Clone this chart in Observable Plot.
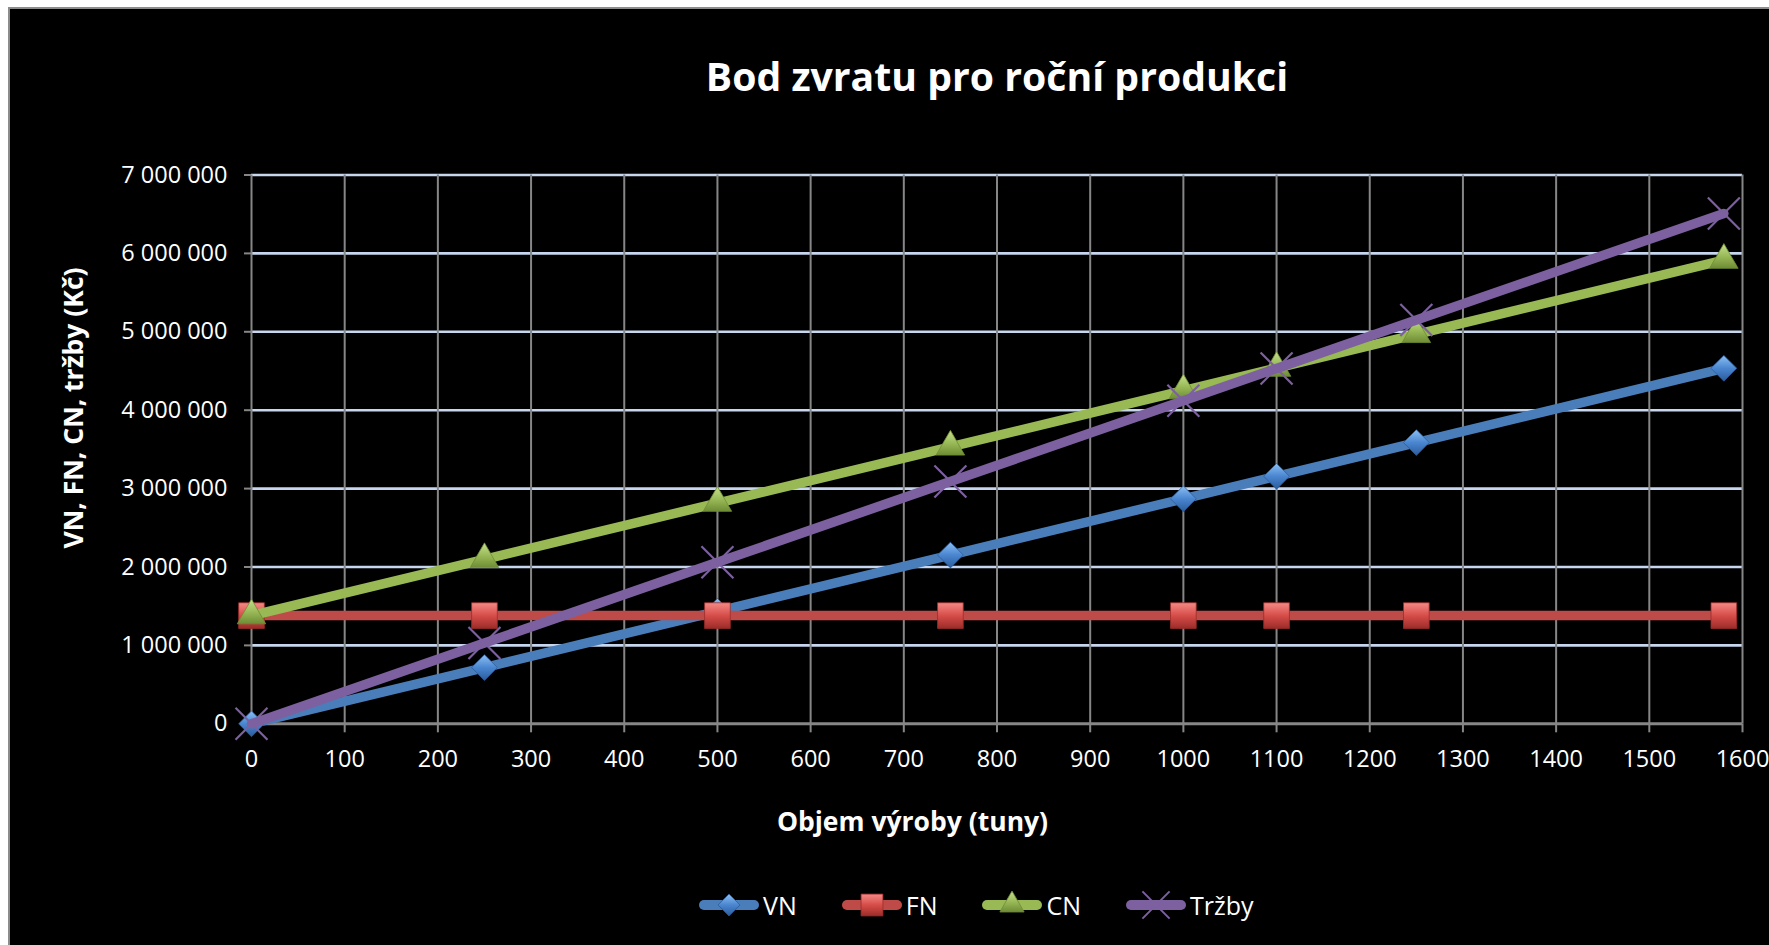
<!DOCTYPE html>
<html>
<head>
<meta charset="utf-8">
<script src="https://cdn.jsdelivr.net/npm/d3@7"></script>
<script src="https://cdn.jsdelivr.net/npm/@observablehq/plot@0.6"></script>
<style>
  html, body { margin: 0; padding: 0; background: #fff; width: 1769px; height: 945px; overflow: hidden; }
  #frame { position: absolute; left: 8px; top: 7px; width: 1761px; height: 938px; background: #000;
           border-top: 2px solid #8c8c8c; border-left: 2px solid #8c8c8c; box-sizing: border-box;
           font-family: "Open Sans", sans-serif; color: #fff; }
  #chart { position: absolute; left: 0; top: 0; }
  #legend { position: absolute; left: 688px; top: 880px; display: flex; align-items: center; gap: 44px; }
  .item { display: flex; align-items: center; gap: 3px; font-size: 25px; line-height: 32px; }
  .item svg { display: block; }
</style>
</head>
<body>
<div id="frame">
  <div id="chart"></div>
  <div id="legend"></div>
</div>
<script>
// ---- data ----
const tons   = [0, 250, 500, 750, 1000, 1100, 1250, 1580];
const vn     = [0, 717500, 1435000, 2152500, 2870000, 3157000, 3587500, 4534600];
const fn     = [1380000, 1380000, 1380000, 1380000, 1380000, 1380000, 1380000, 1380000];
const cn     = [1380000, 2097500, 2815000, 3532500, 4250000, 4537000, 4967500, 5914600];
const trzby  = [0, 1030000, 2060000, 3090000, 4120000, 4532000, 5150000, 6509600];
const seriesNames = ["VN", "FN", "CN", "Tržby"];
const xTicks = [0, 100, 200, 300, 400, 500, 600, 700, 800, 900, 1000, 1100, 1200, 1300, 1400, 1500, 1600];
const yTicks = [0, 1000000, 2000000, 3000000, 4000000, 5000000, 6000000, 7000000];
const titleText = "Bod zvratu pro roční produkci";
const xLabel = "Objem výroby (tuny)";
const yLabel = "VN, FN, CN, tržby (Kč)";

// ---- styles ----
const seriesValues = {"VN": vn, "FN": fn, "CN": cn, "Tržby": trzby};
const lineColor = {"VN": "#4a7ebb", "FN": "#be4b48", "CN": "#98b954", "Tržby": "#7d60a0"};
const gradStops = {
  "VN": ["#8cc0f5", "#4a86d0", "#2a5c9c"],
  "FN": ["#f58a86", "#d64d49", "#9c2c29"],
  "CN": ["#c5e08e", "#9bbb59", "#6e8c34"]
};
const symbolOf = {"VN": "diamond2", "FN": "square", "CN": "triangle", "Tržby": "times"};
const rOf = {"VN": 11.6, "FN": 14.5, "CN": 10.6, "Tržby": 14.6};
const gid = {"VN": "gVN", "FN": "gFN", "CN": "gCN"};

const rows = seriesNames.flatMap(s => tons.map((t, i) => ({series: s, x: t, y: seriesValues[s][i]})));

const NS = "http://www.w3.org/2000/svg";
function defsMark() {
  const defs = document.createElementNS(NS, "defs");
  for (const s of ["VN", "FN", "CN"]) {
    const g = document.createElementNS(NS, "linearGradient");
    g.setAttribute("id", gid[s]);
    g.setAttribute("x1", "0"); g.setAttribute("y1", "0");
    g.setAttribute("x2", "0"); g.setAttribute("y2", "1");
    gradStops[s].forEach((c, i) => {
      const st = document.createElementNS(NS, "stop");
      st.setAttribute("offset", ["0%", "50%", "100%"][i]);
      st.setAttribute("stop-color", c);
      g.appendChild(st);
    });
    defs.appendChild(g);
  }
  return defs;
}

const W = 1759, H = 860;
const mL = 241, mR = 27, mT = 165.5, mB = 145.7;
const frameCX = (mL + (W - mR)) / 2;
const fmtY = d => d3.format(",")(d).replace(/,/g, "\u00a0");

const seriesMarks = seriesNames.flatMap(s => {
  const data = rows.filter(d => d.series === s);
  const line = Plot.line(data, {x: "x", y: "y", stroke: lineColor[s], strokeWidth: 9.5, strokeLinejoin: "round"});
  const dot = s === "Tržby"
    ? Plot.dot(data, {x: "x", y: "y", symbol: symbolOf[s], r: rOf[s], stroke: "#7d60a0", strokeWidth: 2.2, fill: "none"})
    : Plot.dot(data, {x: "x", y: "y", symbol: symbolOf[s], r: rOf[s], fill: `url(#${gid[s]})`, stroke: gradStops[s][2], strokeWidth: 0.8});
  return [line, dot];
});

const chart = Plot.plot({
  width: W, height: H,
  marginLeft: mL, marginRight: mR, marginTop: mT, marginBottom: mB,
  style: {background: "black", color: "white", fontFamily: "'Open Sans', sans-serif", overflow: "visible"},
  x: {domain: [0, 1600]},
  y: {domain: [0, 7000000]},
  marks: [
    defsMark,
    Plot.ruleY(yTicks.filter(d => d > 0), {stroke: "#c5d6ee", strokeWidth: 2.6}),
    Plot.ruleX(xTicks, {stroke: "#868686", strokeWidth: 2}),
    Plot.ruleY([0], {stroke: "#868686", strokeWidth: 3}),
    Plot.axisX(xTicks, {tickSize: 9, tickPadding: 18, stroke: "#868686", strokeWidth: 2, fill: "white",
      fontSize: 23.5, label: null, tickFormat: d => String(d)}),
    Plot.axisY(yTicks, {tickSize: 7, tickPadding: 17, stroke: "#868686", strokeWidth: 2, fill: "white",
      fontSize: 23.5, label: null, tickFormat: fmtY}),
    ...seriesMarks,
    Plot.text([titleText], {frameAnchor: "top", dy: -97, lineAnchor: "middle", fontSize: 39.2,
      fontWeight: "bold", fill: "white"}),
    Plot.text([xLabel], {frameAnchor: "bottom", dx: 902 - frameCX, dy: 98.7, lineAnchor: "middle",
      fontSize: 26.5, fontWeight: "bold", fill: "white"})
  ]
});
// rotated y-axis title
d3.select(chart).append("text")
  .attr("transform", "translate(64,399) rotate(-90)")
  .attr("text-anchor", "middle")
  .attr("dy", "0.35em")
  .attr("fill", "white")
  .attr("font-size", 26.5)
  .attr("font-weight", "bold")
  .text(yLabel);
document.getElementById("chart").appendChild(chart);

// ---- legend ----
const legend = document.getElementById("legend");
const symType = {"VN": d3.symbolDiamond2, "FN": d3.symbolSquare, "CN": d3.symbolTriangle, "Tržby": d3.symbolTimes};
for (const s of seriesNames) {
  const item = document.createElement("div");
  item.className = "item";
  const sv = d3.create("svg").attr("width", 62).attr("height", 32);
  if (s !== "Tržby") {
    const g = sv.append("defs").append("linearGradient").attr("id", "L" + gid[s])
      .attr("x1", 0).attr("y1", 0).attr("x2", 0).attr("y2", 1);
    gradStops[s].forEach((c, i) => g.append("stop").attr("offset", ["0%", "50%", "100%"][i]).attr("stop-color", c));
  }
  sv.append("line").attr("x1", 6).attr("x2", 56).attr("y1", 16).attr("y2", 16)
    .attr("stroke", lineColor[s]).attr("stroke-width", 10).attr("stroke-linecap", "round");
  const size = Math.PI * (rOf[s] * 0.85) ** 2;
  const p = sv.append("path").attr("transform", "translate(31,16)").attr("d", d3.symbol(symType[s], size)());
  if (s === "Tržby") p.attr("fill", "none").attr("stroke", "#7d60a0").attr("stroke-width", 2);
  else p.attr("fill", `url(#L${gid[s]})`).attr("stroke", gradStops[s][2]).attr("stroke-width", 0.8);
  item.appendChild(sv.node());
  const t = document.createElement("span");
  t.textContent = s;
  item.appendChild(t);
  legend.appendChild(item);
}
</script>
</body>
</html>
